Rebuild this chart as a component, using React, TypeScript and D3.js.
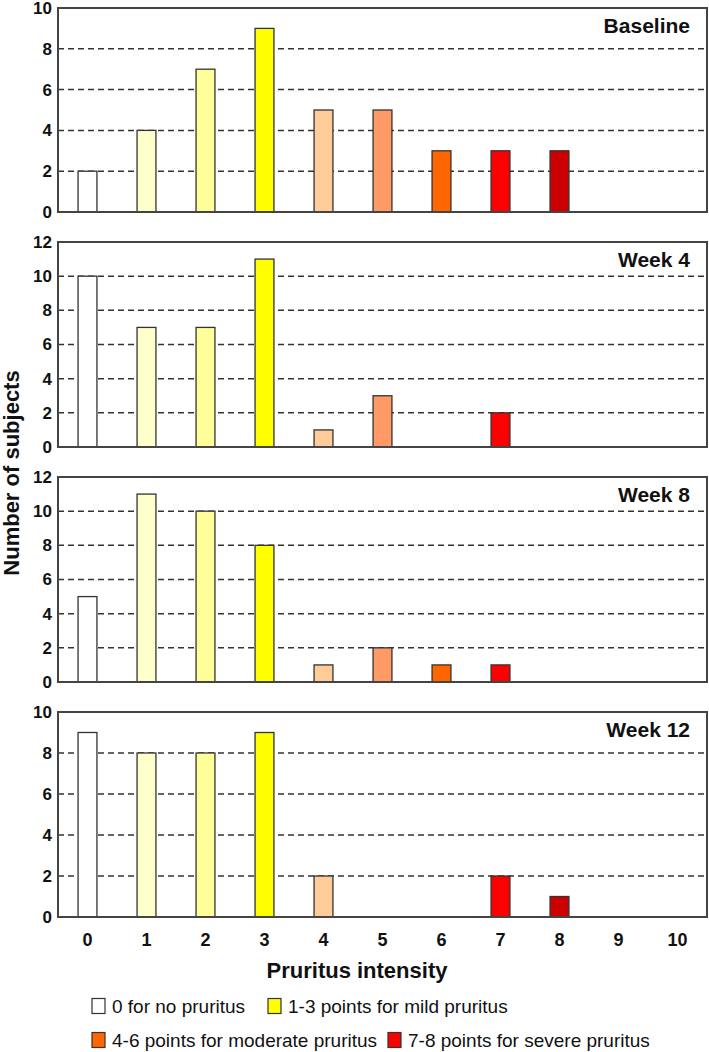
import React from "react";
import * as d3 from "d3";

const categories = ["0", "1", "2", "3", "4", "5", "6", "7", "8", "9", "10"];
const barColors = ["#FFFFFF", "#FFFFCC", "#FFFF99", "#FFFF00", "#FFCC99", "#FF9966", "#FF6600", "#FF0000", "#CC0000", "#CC0000", "#CC0000"];

const panelNames = ["Baseline", "Week 4", "Week 8", "Week 12"];
const baselineValues = [2, 4, 7, 9, 5, 5, 3, 3, 3, 0, 0];
const week4Values = [10, 7, 7, 11, 1, 3, 0, 2, 0, 0, 0];
const week8Values = [5, 11, 10, 8, 1, 2, 1, 1, 0, 0, 0];
const week12Values = [9, 8, 8, 9, 2, 0, 0, 2, 1, 0, 0];
const panelMax = [10, 12, 12, 10];
const panelValues = [baselineValues, week4Values, week8Values, week12Values];

const legendLabels = [
  "0 for no pruritus",
  "1-3 points for mild pruritus",
  "4-6 points for moderate pruritus",
  "7-8 points for severe pruritus",
];
const legendColors = ["#FFFFFF", "#FFFF00", "#FF6600", "#FF0000"];

const W = 709;
const H = 1052;
const left = 58;
const right = 707;
const panelTops = [8, 242, 477, 712];
const panelH = 205;
const FONT = "'Liberation Sans', Arial, Helvetica, sans-serif";

export default function App() {
  const x = d3.scaleBand<string>().domain(categories).range([left, right]).paddingInner(0.68).paddingOuter(0.34);
  return (
    <svg width={W} height={H} style={{ position: "absolute", left: 0, top: 0 }} fontFamily={FONT}>
      <rect x={0} y={0} width={W} height={H} fill="#fff" />
      {panelValues.map((vals, pi) => {
        const top = panelTops[pi];
        const h = pi === 0 ? panelH - 1 : panelH;
        const bottom = top + h;
        const y = d3.scaleLinear().domain([0, panelMax[pi]]).range([bottom, top]);
        const ticks = d3.range(0, panelMax[pi] + 1, 2);
        return (
          <g key={pi}>
            {ticks.filter((t) => t > 0 && t < panelMax[pi]).map((t) => (
              <line key={"g" + t} x1={left} x2={right} y1={y(t)} y2={y(t)} stroke="#333" strokeWidth={1.5} strokeDasharray="6,4" />
            ))}
            {vals.map((v, i) =>
              v > 0 ? (
                <rect
                  key={i}
                  x={x(categories[i])!}
                  y={y(v)}
                  width={x.bandwidth()}
                  height={bottom - y(v)}
                  fill={barColors[i]}
                  stroke="#333"
                  strokeWidth={1.3}
                />
              ) : null
            )}
            <rect x={left} y={top} width={right - left} height={h} fill="none" stroke="#444" strokeWidth={2} />
            {ticks.map((t) => (
              <text key={"t" + t} x={52} y={y(t)} dy="0.35em" textAnchor="end" fontWeight="bold" fontSize={17} fill="#111">
                {t}
              </text>
            ))}
            <text x={690} y={top + 25} textAnchor="end" fontWeight="bold" fontSize={21} fill="#111">
              {panelNames[pi]}
            </text>
          </g>
        );
      })}
      {categories.map((c) => (
        <text key={c} x={x(c)! + x.bandwidth() / 2} y={940} dy="0.35em" textAnchor="middle" fontWeight="bold" fontSize={18} fill="#111">
          {c}
        </text>
      ))}
      <text x={357} y={970} dy="0.35em" textAnchor="middle" fontWeight="bold" fontSize={22} fill="#111">
        Pruritus intensity
      </text>
      <text transform={`translate(11,473) rotate(-90)`} dy="0.35em" textAnchor="middle" fontWeight="bold" fontSize={22} fill="#111">
        Number of subjects
      </text>
      {legendLabels.map((lab, i) => {
        const row = Math.floor(i / 2);
        const col = i % 2;
        const cy = row === 0 ? 1006 : 1040;
        const sx = col === 0 ? 92 : i === 1 ? 268 : 388;
        return (
          <g key={lab}>
            <rect x={sx} y={cy - 7.5} width={13} height={15} fill={legendColors[i]} stroke="#333" strokeWidth={1.2} />
            <text x={sx + 20} y={cy} dy="0.35em" fontSize={19} fill="#111">
              {lab}
            </text>
          </g>
        );
      })}
    </svg>
  );
}
